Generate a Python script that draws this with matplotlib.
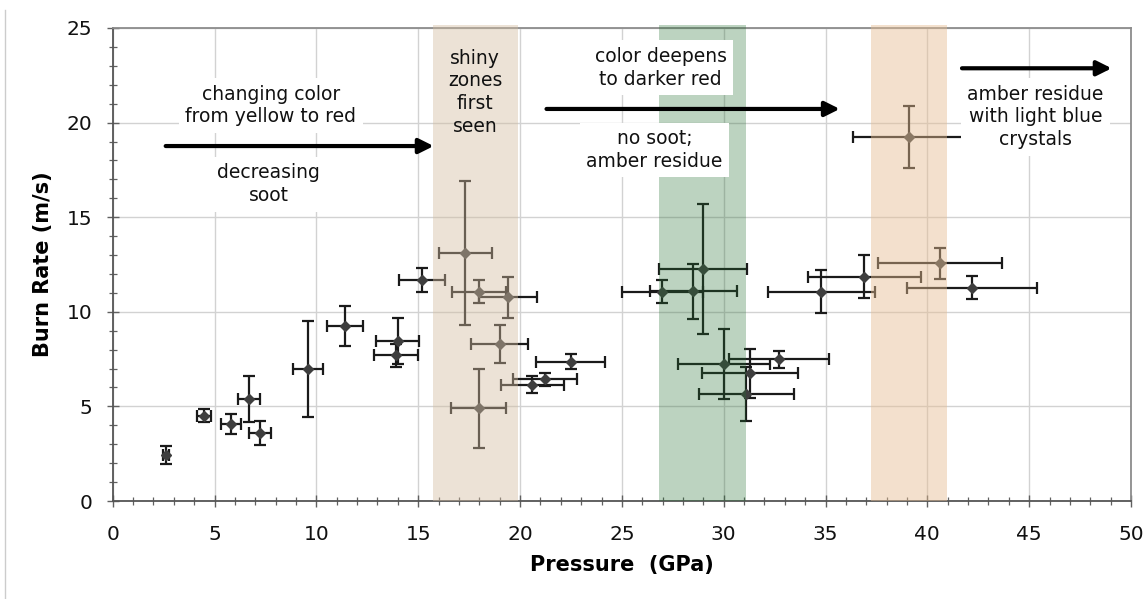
import matplotlib
matplotlib.use("Agg")
import matplotlib.pyplot as plt
from matplotlib.ticker import MultipleLocator
from matplotlib.lines import Line2D

# ---- data ----
pressure = [2.62, 4.50, 5.81, 6.69, 7.22, 9.59, 11.40, 13.99, 13.91, 15.17,
            17.30, 17.98, 19.39, 19.00, 17.98, 22.48, 21.21, 20.60,
            26.99, 28.50, 28.99, 30.00, 31.29, 31.10, 32.71, 34.79, 36.90,
            40.61, 42.20, 39.08]
burn_rate = [2.45, 4.51, 4.05, 5.39, 3.61, 6.96, 9.25, 8.46, 7.70, 11.68,
             13.09, 11.06, 10.77, 8.28, 4.90, 7.36, 6.43, 6.15,
             11.07, 11.08, 12.25, 7.24, 6.75, 5.66, 7.49, 11.06, 11.86,
             12.56, 11.27, 19.25]
pressure_err = [0.15, 0.34, 0.48, 0.52, 0.54, 0.72, 0.87, 1.07, 1.06, 1.13,
                1.30, 1.33, 1.42, 1.41, 1.35, 1.69, 1.57, 1.54,
                2.00, 2.13, 2.17, 2.25, 2.37, 2.33, 2.45, 2.62, 2.78,
                3.04, 3.18, 2.75]
burn_err = [0.48, 0.34, 0.53, 1.23, 0.63, 2.54, 1.08, 1.20, 0.60, 0.66,
            3.81, 0.60, 1.08, 1.00, 2.08, 0.39, 0.35, 0.44,
            0.63, 1.47, 3.43, 1.87, 1.30, 1.41, 0.44, 1.15, 1.12,
            0.81, 0.62, 1.65]

# shaded pressure zones (GPa)
zone_ranges = [(15.75, 19.9), (26.8, 31.1), (37.25, 40.95)]
zone_colors = ["#D3BCA0", "#277134", "#E6BD92"]
zone_alphas = [0.43, 0.31, 0.46]

x_ticks = [0, 5, 10, 15, 20, 25, 30, 35, 40, 45, 50]
y_ticks = [0, 5, 10, 15, 20, 25]

# ---- figure ----
fig = plt.figure(figsize=(11.48, 5.99), dpi=100)
fig.patch.set_facecolor("white")
ax = fig.add_axes([0.0982, 0.1636, 0.8870, 0.7897])

ax.set_xlim(0, 50)
ax.set_ylim(0, 25)
ax.set_xticks(x_ticks)
ax.set_yticks(y_ticks)
ax.xaxis.set_minor_locator(MultipleLocator(1))
ax.yaxis.set_minor_locator(MultipleLocator(1))
ax.grid(True, which="major", color="#D2D2D2", linewidth=1.0)
ax.set_axisbelow(True)

ax.tick_params(axis="both", which="major", direction="inout", length=9,
               width=1.0, color="#606060", labelsize=14.5, labelcolor="#111111")
ax.tick_params(axis="both", which="minor", direction="inout", length=6,
               width=0.9, color="#606060")
ax.tick_params(axis="x", which="major", pad=13)
ax.tick_params(axis="y", which="major", pad=10)

for side in ["left", "bottom"]:
    ax.spines[side].set_color("#555555")
    ax.spines[side].set_linewidth(1.3)
for side in ["top", "right"]:
    ax.spines[side].set_color("#8C8C8C")
    ax.spines[side].set_linewidth(1.3)

ax.errorbar(pressure, burn_rate, xerr=pressure_err, yerr=burn_err,
            fmt="D", color="#3E3E3E", markersize=5, ecolor="#1A1A1A",
            elinewidth=1.6, capsize=4.3, capthick=1.6, zorder=3)

for (x0, x1), c, a in zip(zone_ranges, zone_colors, zone_alphas):
    ax.axvspan(x0, x1, ymin=0, ymax=1.006, color=c, alpha=a, lw=0,
               zorder=4, clip_on=False)

box = dict(boxstyle="square,pad=0.35", facecolor="white", edgecolor="none")
tfont = dict(fontsize=13.5, color="#111111", ha="center", va="center",
             linespacing=1.25, zorder=6)

ax.text(7.77, 20.9, "changing color\nfrom yellow to red", bbox=box, **tfont)
ax.text(7.65, 16.75, "decreasing\nsoot", bbox=box, **tfont)
ax.text(17.8, 21.6, "shiny\nzones\nfirst\nseen", **tfont)
ax.text(26.9, 22.9, "color deepens\nto darker red", bbox=box, **tfont)
ax.text(26.6, 18.55, "no soot;\namber residue", bbox=box, **tfont)
ax.text(45.3, 20.3, "amber residue\nwith light blue\ncrystals", bbox=box, **tfont)

arrow = dict(arrowstyle="-|>", color="black", lw=3, mutation_scale=22,
             shrinkA=0, shrinkB=0)
ax.annotate("", xy=(15.76, 18.76), xytext=(2.6, 18.76), arrowprops=arrow, zorder=7)
ax.annotate("", xy=(35.7, 20.72), xytext=(21.3, 20.72), arrowprops=arrow, zorder=7)
ax.annotate("", xy=(49.05, 22.87), xytext=(41.7, 22.87), arrowprops=arrow, zorder=7)

ax.set_xlabel("Pressure  (GPa)", fontsize=15, fontweight="bold", labelpad=8)
ax.set_ylabel("Burn Rate (m/s)", fontsize=15, fontweight="bold", labelpad=10)

# thin frame line at the left edge of the picture
fig.add_artist(Line2D([0.0045, 0.0045], [0.0, 0.983], transform=fig.transFigure,
                      color="#CCCCCC", lw=1.0))

fig.savefig("out.png", dpi=100)
